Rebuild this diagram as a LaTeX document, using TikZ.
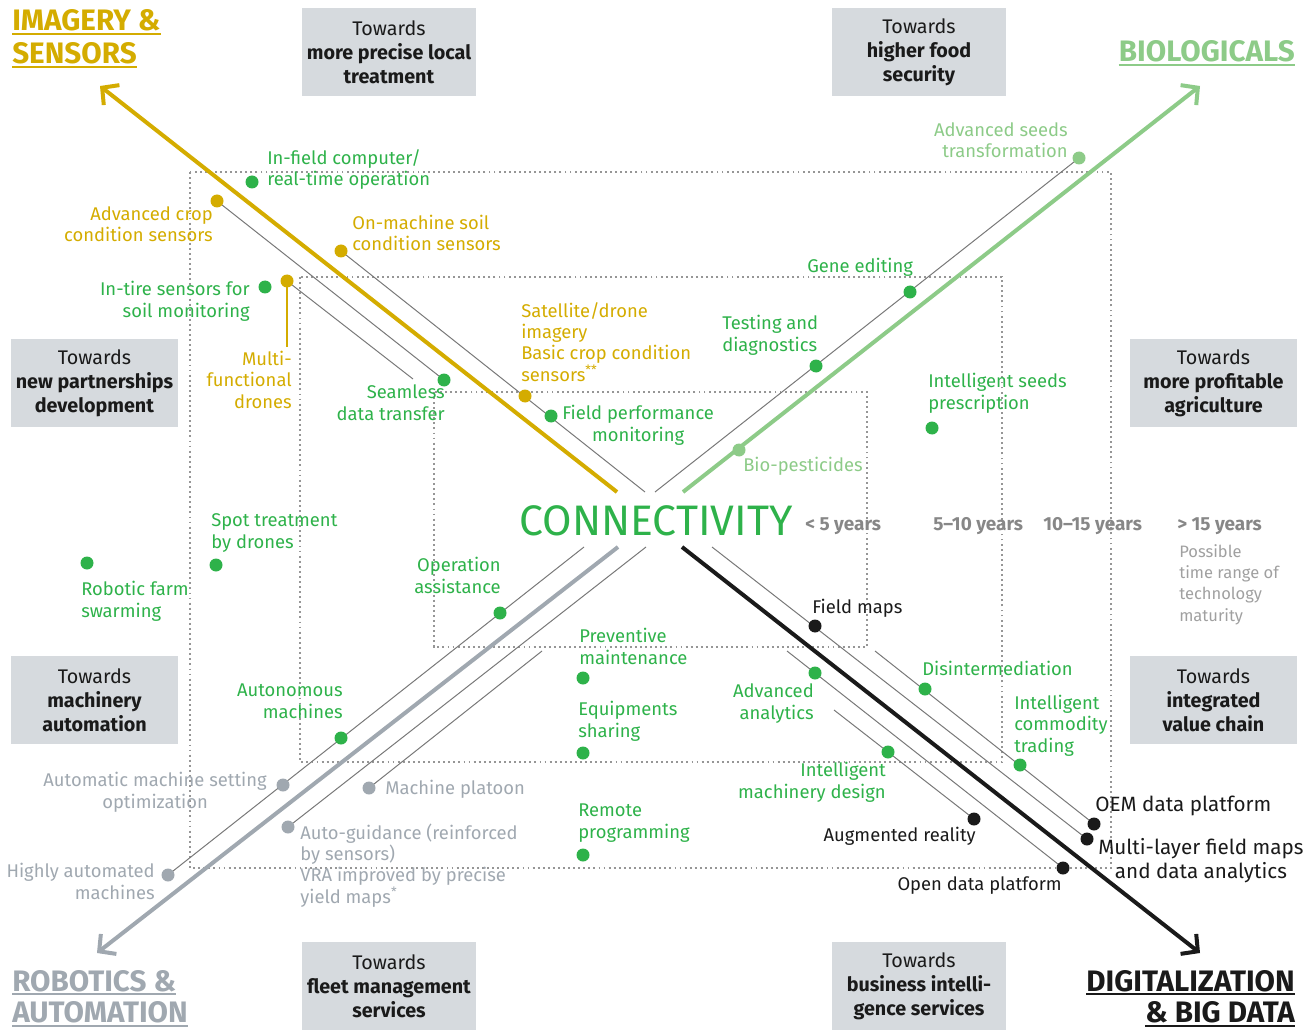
\documentclass[tikz,border=0pt]{standalone}
\usepackage{fontspec}
\setmainfont{Fira Sans}
\usetikzlibrary{arrows.meta}
\definecolor{cyel}{RGB}{212,172,0}
\definecolor{cgrn}{RGB}{46,178,74}
\definecolor{clgr}{RGB}{141,203,136}
\definecolor{cgbl}{RGB}{160,168,176}
\definecolor{cblk}{RGB}{26,26,26}
\definecolor{cbox}{RGB}{214,218,222}
\definecolor{cthin}{RGB}{120,120,120}
\definecolor{cdotr}{RGB}{150,150,150}
\definecolor{cyear}{RGB}{135,135,135}
\definecolor{cposs}{RGB}{160,160,160}
\pgfdeclarelayer{bg}
\pgfsetlayers{bg,main}
\begin{document}
\begin{tikzpicture}[x=0.75pt,y=-0.75pt,
  lab/.style={inner sep=0pt, font=\fontsize{13.8}{16}\selectfont},
  LW/.style={lab, anchor=base west, align=left},
  LE/.style={lab, anchor=base east, align=right},
  LC/.style={lab, anchor=base west, align=center},
  big/.style={font=\fontsize{15.5}{18}\selectfont},
  pt/.style={circle, inner sep=0pt, minimum size=9.75pt},
  tbox/.style={fill=cbox, minimum height=66pt, align=center, inner sep=0pt,
    font=\fontsize{14.8}{18}\selectfont, text=cblk},
  ttl/.style={inner sep=0pt, font=\fontsize{22.2}{25}\selectfont\bfseries},
  yr/.style={inner sep=0pt, font=\fontsize{14.2}{16}\selectfont\bfseries, text=cyear, anchor=base west},
  thinl/.style={cthin, line width=0.75pt},
  dotr/.style={cdotr, line width=1.4pt, dash pattern=on 1.4pt off 2.4pt},
  bigarr/.style={line width=3pt, -{Straight Barb[length=9pt,width=19pt]}},
]
\useasboundingbox (0,0) rectangle (1305,1030);

% ---------- boxes ----------
\node[tbox, minimum width=130.5pt] (b1) at (389,52) {Towards\\\textbf{more precise local}\\\textbf{treatment}};
\node[tbox, minimum width=130.5pt] (b2) at (919,52) {Towards\\\textbf{higher food}\\\textbf{security}};
\node[tbox, minimum width=125.25pt] (b3) at (94.5,383) {Towards\\\textbf{new partnerships}\\\textbf{development}};
\node[tbox, minimum width=125.25pt] (b4) at (1213.5,383) {Towards\\\textbf{more profitable}\\\textbf{agriculture}};
\node[tbox, minimum width=125.25pt] (b5) at (94.5,700) {Towards\\\textbf{machinery}\\\textbf{automation}};
\node[tbox, minimum width=125.25pt] (b6) at (1213.5,700) {Towards\\\textbf{integrated}\\\textbf{value chain}};
\node[tbox, minimum width=130.5pt] (b7) at (389,986) {Towards\\\textbf{fleet management}\\\textbf{services}};
\node[tbox, minimum width=130.5pt] (b8) at (919,986) {Towards\\\textbf{business intelli-}\\\textbf{gence services}};

% ---------- titles ----------
\node[ttl, text=cyel, anchor=base west] (t1a) at (12,31) {IMAGERY \&};
\node[ttl, text=cyel, anchor=base west] (t1b) at (12,63.5) {SENSORS};
\node[ttl, text=clgr, anchor=base east] (t2a) at (1295,62) {BIOLOGICALS};
\node[ttl, text=cgbl, anchor=base west] (t3a) at (12,991) {ROBOTICS \&};
\node[ttl, text=cgbl, anchor=base west] (t3b) at (12,1022.5) {AUTOMATION};
\node[ttl, text=cblk, anchor=base east] (t4a) at (1295,991) {DIGITALIZATION};
\node[ttl, text=cblk, anchor=base east] (t4b) at (1295,1022.5) {\& BIG DATA};
\foreach \n/\c in {t1a/cyel,t1b/cyel,t2a/clgr,t3a/cgbl,t3b/cgbl,t4a/cblk,t4b/cblk}
  \draw[\c, line width=1.4pt] ([yshift=-2.4pt]\n.base west) -- ([yshift=-2.4pt]\n.base east);

% ---------- centre ----------
\node[inner sep=0pt, text=cgrn, font=\fontsize{32}{32}\selectfont] (conn) at (656,521) {CONNECTIVITY};
\node[yr] (y1) at (805,530) {< 5 years};
\node[yr] (y2) at (933,530) {5\textendash10 years};
\node[yr] (y3) at (1043,530) {10\textendash15 years};
\node[yr] (y4) at (1177,530) {> 15 years};
\node[LW, text=cposs, font=\fontsize{12.4}{16}\selectfont] (poss) at (1179,621) {Possible\\time range of\\technology\\maturity};

% ---------- dots ----------
\node[pt, fill=cgrn] (dInfield) at (252,182) {};
\node[pt, fill=cyel] (dAdvCrop) at (217,201) {};
\node[pt, fill=cyel] (dOnMach) at (341,251) {};
\node[pt, fill=cgrn] (dIntire) at (265,287) {};
\node[pt, fill=cyel] (dMulti) at (287,281) {};
\node[pt, fill=cgrn] (dSeam) at (444,380) {};
\node[pt, fill=cyel] (dSat) at (525,396) {};
\node[pt, fill=cgrn] (dField) at (551,416) {};
\node[pt, fill=clgr] (dAdvSeeds) at (1079,158) {};
\node[pt, fill=cgrn] (dGene) at (910,292) {};
\node[pt, fill=cgrn] (dTest) at (816,366) {};
\node[pt, fill=cgrn] (dIntSeeds) at (932,428) {};
\node[pt, fill=clgr] (dBio) at (739,450) {};
\node[pt, fill=cgrn] (dOper) at (500,613) {};
\node[pt, fill=cgrn] (dAuton) at (341,738) {};
\node[pt, fill=cgbl] (dAutomatic) at (283,785) {};
\node[pt, fill=cgbl] (dHighly) at (168,875) {};
\node[pt, fill=cgbl] (dPlatoon) at (369,788) {};
\node[pt, fill=cgbl] (dGuid) at (288,827) {};
\node[pt, fill=cgrn] (dRobotic) at (87,563) {};
\node[pt, fill=cgrn] (dSpot) at (216,565) {};
\node[pt, fill=cgrn] (dPrev) at (583,678) {};
\node[pt, fill=cgrn] (dEquip) at (583,753) {};
\node[pt, fill=cgrn] (dRemote) at (583,855) {};
\node[pt, fill=cblk] (dFieldMaps) at (815,626) {};
\node[pt, fill=cgrn] (dAdvAn) at (815,673) {};
\node[pt, fill=cgrn] (dDisint) at (925,689) {};
\node[pt, fill=cgrn] (dIntMach) at (888,752) {};
\node[pt, fill=cgrn] (dCommod) at (1020,765) {};
\node[pt, fill=cblk] (dAug) at (974,819) {};
\node[pt, fill=cblk] (dOEM) at (1094,824) {};
\node[pt, fill=cblk] (dMulti2) at (1087,839) {};
\node[pt, fill=cblk] (dOpen) at (1063,868) {};

% ---------- free ends ----------
\coordinate (cMultiEnd) at (413,379);
\coordinate (cMultiV) at (287,347);
\coordinate (cImgC) at (645,492);
\coordinate (cBioC) at (655,492);
\coordinate (cRob1) at (584,547);
\coordinate (cRob2) at (646,547);
\coordinate (cRob3) at (542,651);
\coordinate (cDig1) at (712,547);
\coordinate (cDig2) at (875,651);
\coordinate (cDig3) at (787,651);
\coordinate (cDig4) at (834,710);
\coordinate (aYs) at (617,492);
\coordinate (aYe) at (100,86);
\coordinate (aGs) at (683,492);
\coordinate (aGe) at (1200,86);
\coordinate (aRs) at (618,547);
\coordinate (aRe) at (97,953);
\coordinate (aBs) at (682,547);
\coordinate (aBe) at (1200,953);

% ---------- labels (anchor = baseline of last line) ----------
\node[LW, text=cgrn] (lInfield) at (267,186) {In-field computer/\\real-time operation};
\node[LE, text=cyel] (lAdvCrop) at (213,242) {Advanced crop\\condition sensors};
\node[LW, text=cyel] (lOnMach) at (352,251) {On-machine soil\\condition sensors};
\node[LE, text=cgrn] (lIntire) at (250,317) {In-tire sensors for\\soil monitoring};
\node[LE, text=cyel] (lMulti) at (292,408) {Multi-\\functional\\drones};
\node[LE, text=cgrn] (lSeam) at (445,420) {Seamless\\data transfer};
\node[LW, text=cyel] (lSat) at (521,381) {Satellite/drone\\imagery\\Basic crop condition\\sensors\textsuperscript{**}};
\node[LC, text=cgrn] (lField) at (562,441) {Field performance\\monitoring};
\node[LE, text=clgr] (lAdvSeeds) at (1068,158) {Advanced seeds\\transformation};
\node[LW, text=cgrn] (lGene) at (807,273) {Gene editing};
\node[LW, text=cgrn] (lTest) at (722,351) {Testing and\\diagnostics};
\node[LW, text=cgrn] (lIntSeeds) at (928,409) {Intelligent seeds\\prescription};
\node[LW, text=clgr] (lBio) at (743,471) {Bio-pesticides};
\node[LE, text=cgrn] (lOper) at (501,593) {Operation\\assistance};
\node[LE, text=cgrn] (lAuton) at (343,718) {Autonomous\\machines};
\node[lab, anchor=base east, align=center, text=cgbl] (lAutomatic) at (267,808) {Automatic machine setting\\optimization};
\node[LE, text=cgbl] (lHighly) at (155,899) {Highly automated\\machines};
\node[LW, text=cgbl] (lPlatoon) at (385,794) {Machine platoon};
\node[LW, text=cgbl] (lGuid) at (300,903) {Auto-guidance (reinforced\\by sensors)\\VRA improved by precise\\yield maps\textsuperscript{*}};
\node[LW, text=cgrn] (lRobotic) at (81,617) {Robotic farm\\swarming};
\node[LW, text=cgrn] (lSpot) at (211,548) {Spot treatment\\by drones};
\node[LW, text=cgrn] (lPrev) at (579,664) {Preventive\\maintenance};
\node[LW, text=cgrn] (lEquip) at (578,737) {Equipments\\sharing};
\node[LW, text=cgrn] (lRemote) at (578,838) {Remote\\programming};
\node[LW, text=cblk] (lFieldMaps) at (812,613) {Field maps};
\node[LE, text=cgrn] (lAdvAn) at (814,719) {Advanced\\analytics};
\node[LW, text=cgrn] (lDisint) at (922,675) {Disintermediation};
\node[LW, text=cgrn] (lCommod) at (1014,752) {Intelligent\\commodity\\trading};
\node[LE, text=cgrn] (lIntMach) at (886,798) {Intelligent\\machinery design};
\node[LE, text=cblk] (lAug) at (976,841) {Augmented reality};
\node[LW, text=cblk, big] (lOEM) at (1095,811) {OEM data platform};
\node[LC, text=cblk, big] (lMulti2) at (1098,878) {Multi-layer field maps\\and data analytics};
\node[LE, text=cblk] (lOpen) at (1062,890) {Open data platform};

% ---------- background: grid, arrows, connectors ----------
\begin{pgfonlayer}{bg}
\draw[dotr] (190,172) rectangle (1111,868);
\draw[dotr] (300,277) rectangle (1002,762);
\draw[dotr] (434,392) rectangle (867,647);
\draw[bigarr, cyel] (aYs) -- (aYe);
\draw[bigarr, clgr] (aGs) -- (aGe);
\draw[bigarr, cgbl] (aRs) -- (aRe);
\draw[bigarr, cblk] (aBs) -- (aBe);
\draw[thinl] (dAdvCrop.center) -- (dSeam.center);
\draw[thinl] (dMulti.center) -- (cMultiEnd);
\draw[cyel, line width=1.1pt] (dMulti.center) -- (cMultiV);
\draw[thinl] (dOnMach.center) -- (cImgC);
\draw[thinl] (dAdvSeeds.center) -- (cBioC);
\draw[thinl] (cRob1) -- (dHighly.center);
\draw[thinl] (cRob2) -- (dGuid.center);
\draw[thinl] (cRob3) -- (dPlatoon.center);
\draw[thinl] (cDig1) -- (dMulti2.center);
\draw[thinl] (cDig2) -- (dOEM.center);
\draw[thinl] (cDig3) -- (dOpen.center);
\draw[thinl] (cDig4) -- (dAug.center);
\end{pgfonlayer}
\end{tikzpicture}
\end{document}
